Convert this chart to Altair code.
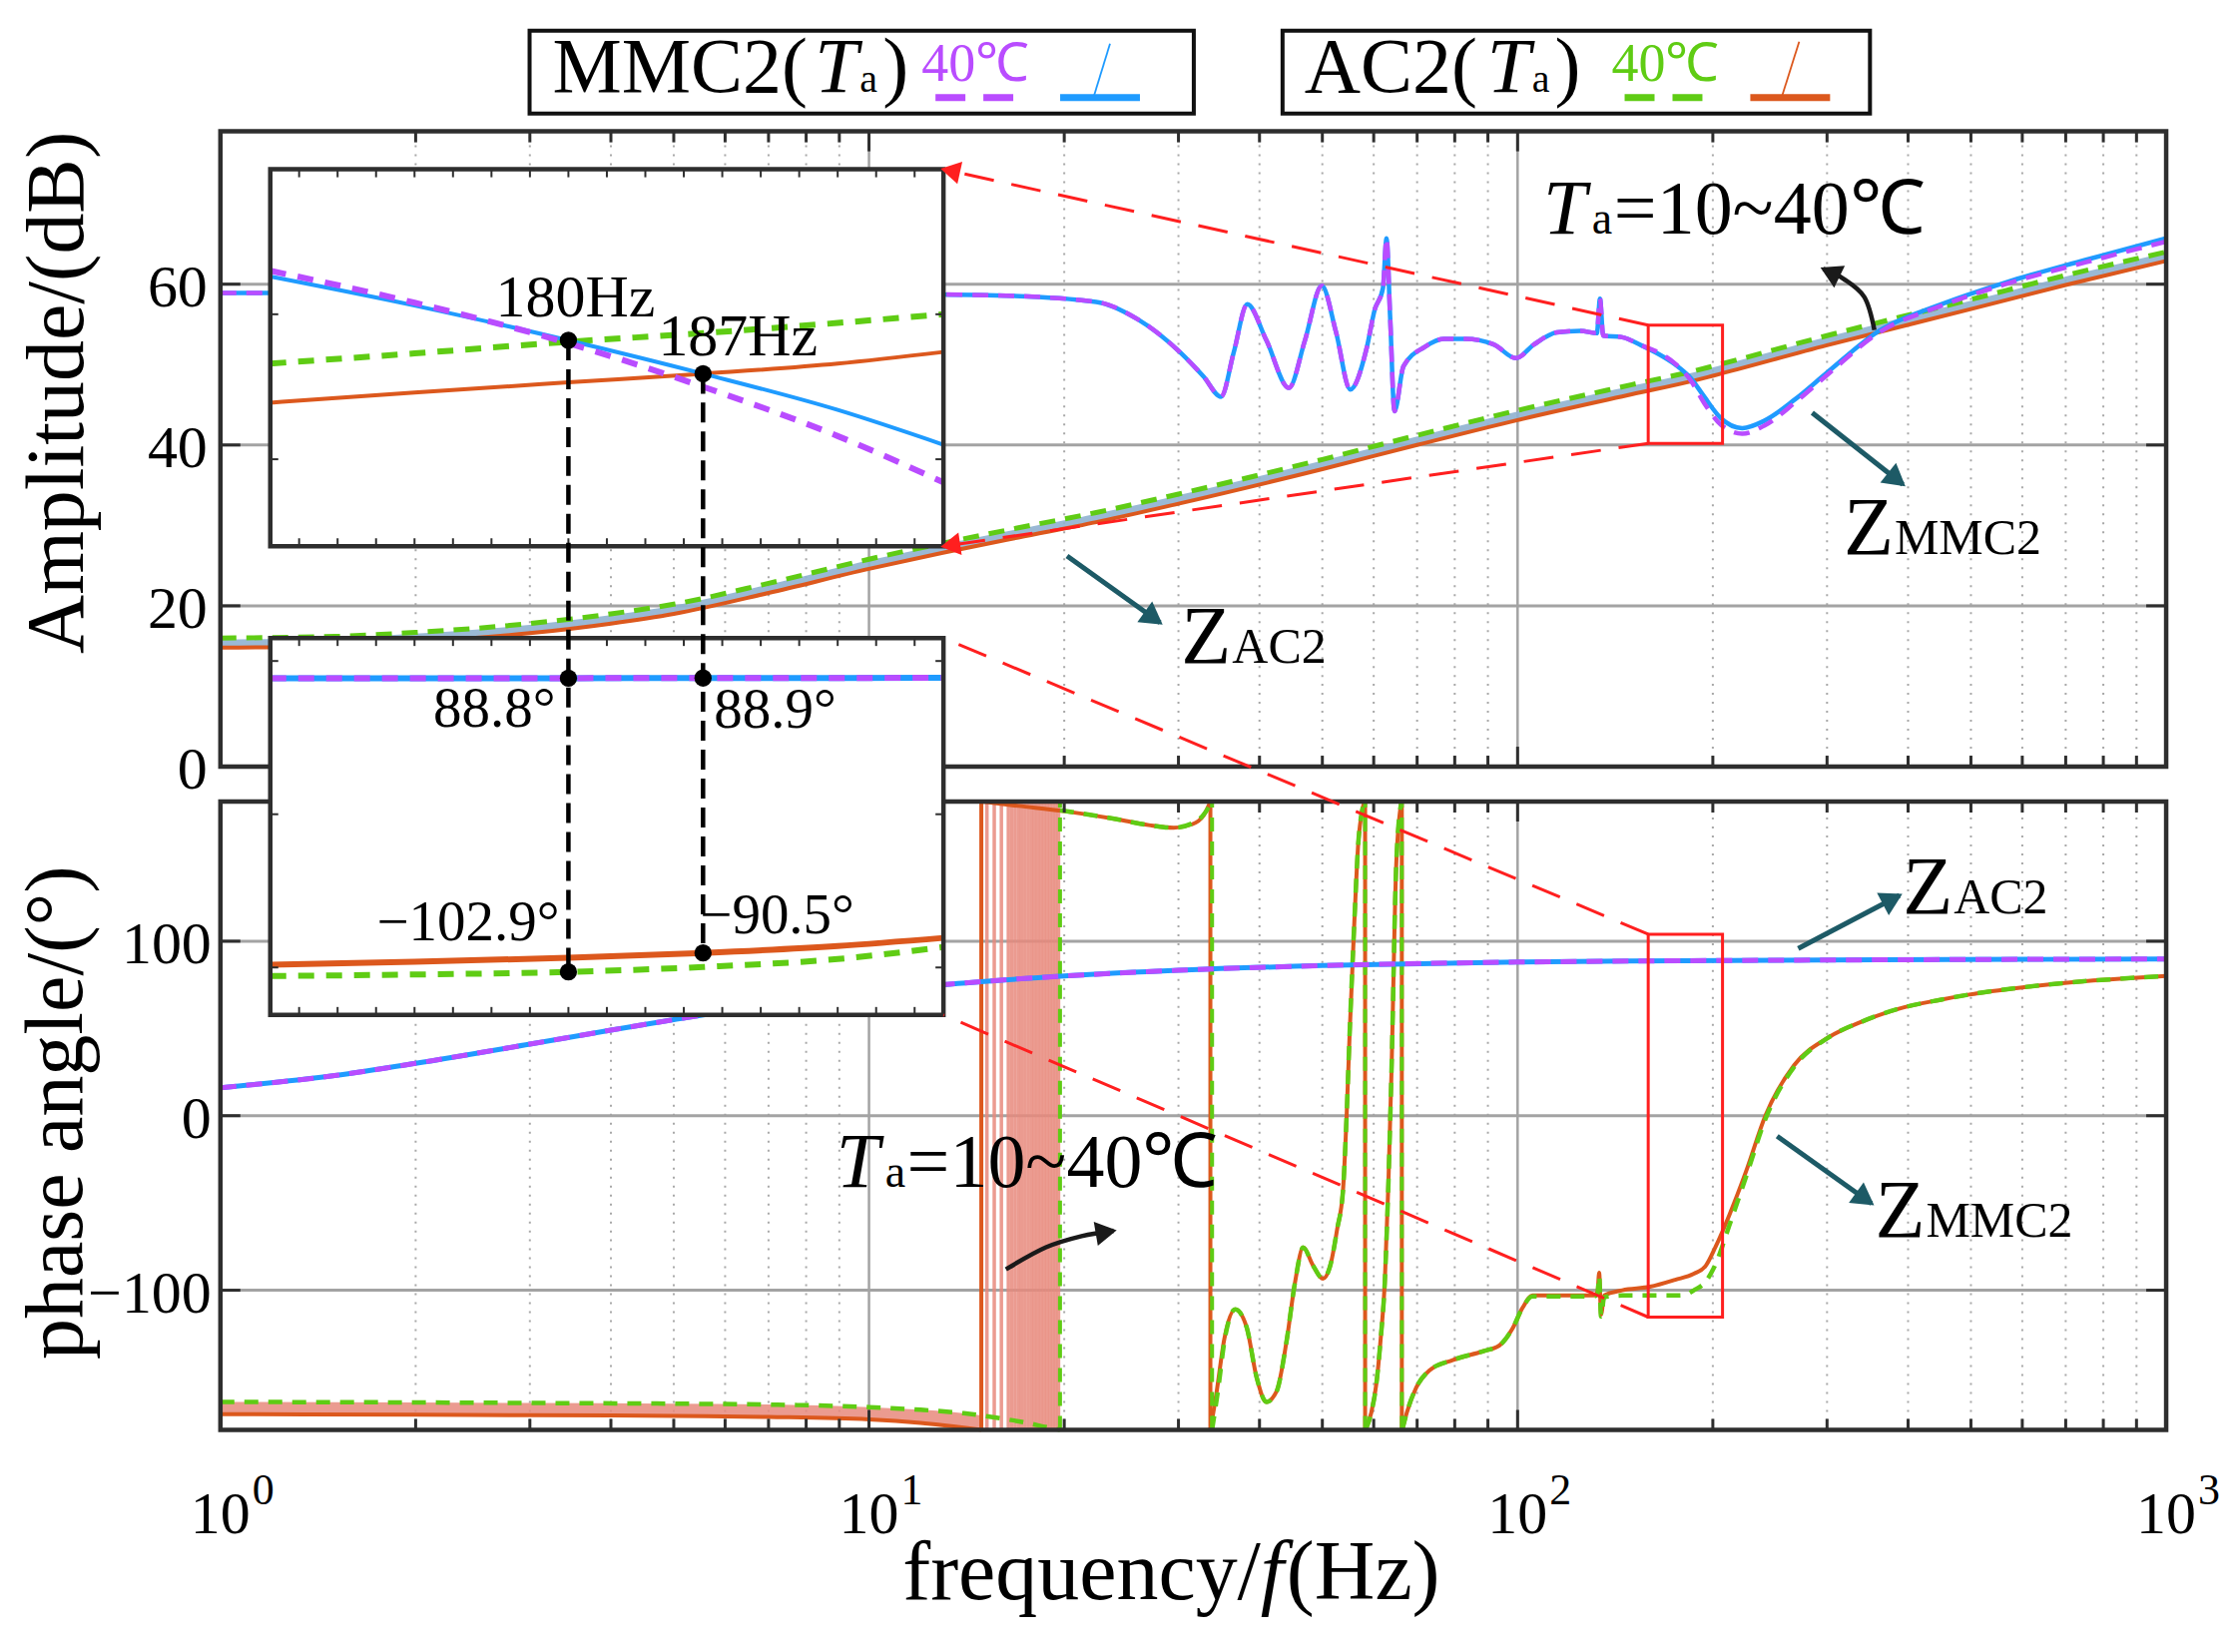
import math
import altair as alt
import pandas as pd

FONT = "Liberation Serif"
BLUE = "#1f9bff"
PURPLE = "#b94cff"
GREEN = "#5fcc14"
ORANGE = "#dc581d"
SALMON = "#e8897c"
STEEL = "#8fb1d0"
TEAL = "#1d5a66"
RED = "#ff1f1f"
FRAME = "#2e2e2e"
GRID = "#a3a3a3"
GRID_MINOR = "#a8a8a8"

# ------------------------------------------------------------------ data
# top panel: amplitude (dB)
mmc_amp_f = [1, 2, 5, 10, 15.7, 22.4, 26, 30.2, 32.8, 34.9, 36.5, 38.3, 41, 44.4, 47, 49.9, 52.5, 55.2,
             58.5, 60.2, 62, 62.8, 63.6, 64.6, 66.7, 71.9, 77, 83, 91.9, 99.4, 106, 114.9, 125, 132.5,
             134, 135.5, 145, 155, 165, 175, 185, 194, 206, 222, 240, 268, 300, 361, 450, 565, 750, 1000]
mmc_amp_db = [58.9, 58.9, 58.9, 58.8, 58.6, 57.8, 55.6, 51.5, 48.5, 46.0, 51.5, 57.5, 53.0, 47.1, 53.0,
              59.8, 54.0, 46.9, 52.0, 56.8, 59.5, 65.7, 56.0, 44.2, 49.8, 52.2, 53.2, 53.2, 52.5, 50.8,
              52.5, 54.0, 54.2, 53.9, 58.2, 53.6, 53.4, 52.4, 51.3, 50.0, 48.3, 46.0, 43.3, 42.1, 43.0,
              45.7, 49.0, 54.2, 57.5, 60.2, 63.0, 65.7]
mmc40_amp_db = [58.9, 58.9, 58.9, 58.8, 58.6, 57.8, 55.6, 51.5, 48.5, 46.0, 51.5, 57.5, 53.0, 47.1, 53.0,
                59.8, 54.0, 46.9, 52.0, 56.8, 59.5, 65.7, 56.0, 44.2, 49.8, 52.2, 53.2, 53.2, 52.5, 50.8,
                52.5, 54.0, 54.2, 53.9, 58.2, 53.6, 53.4, 52.4, 51.5, 50.1, 48.0, 45.2, 42.5, 41.4, 42.4,
                45.3, 48.7, 54.0, 57.3, 60.0, 62.7, 65.3]
ac2_amp_f = [1, 1.5, 2, 3, 4, 5, 7, 10, 13, 17, 22.4, 30, 50, 70, 100, 150, 187, 200, 300, 500, 700, 1000]
ac2_amp_db = [14.8, 15.0, 15.5, 16.6, 17.8, 19.0, 21.6, 24.6, 26.6, 28.5, 30.4, 32.7, 37.0, 40.0, 43.1,
              46.3, 48.0, 48.6, 52.4, 56.9, 59.9, 62.9]
ac2_40_amp_db = [16.0, 16.2, 16.7, 17.8, 19.0, 20.2, 22.8, 25.8, 27.8, 29.7, 31.6, 33.9, 38.2, 41.2, 44.3,
                 47.5, 49.2, 49.8, 53.6, 58.1, 61.1, 64.0]
ac2_family_amp_db = [15.4, 15.6, 16.1, 17.2, 18.4, 19.6, 22.2, 25.2, 27.2, 29.1, 31.0, 33.3, 37.6, 40.6,
                     43.7, 46.9, 48.6, 49.2, 53.0, 57.5, 60.5, 63.5]

# bottom panel: phase (deg)
mmc_ph_f = [1, 1.5, 2, 3, 4, 5, 7, 10, 13, 20, 30, 50, 100, 180, 300, 1000]
mmc_ph_deg = [16, 23, 30, 41, 49, 55, 63.5, 70.5, 75, 80, 83.3, 86, 88, 88.8, 89.2, 89.8]
mmc40_ph_deg = [16, 23, 30, 41, 49, 55, 63.5, 70.5, 75, 80, 83.3, 86, 88, 88.8, 89.2, 89.8]

ac2_ph_f = [
    [1, 2, 3, 5, 7, 10, 12, 13.5, 14.9],
    [14.9, 17, 20, 24, 27, 29.5, 31.5, 32.8, 33.6],
    [33.6, 34.3, 35.3, 36.7, 38.2, 39.6, 41, 42.5, 44, 45.4, 46.7, 48.4, 50.1, 51.5, 52.7, 53.8, 54.5,
     55.1, 56, 56.8, 57.6, 58.1],
    [58.3, 59.5, 60.6, 61.5, 62.4, 63.2, 63.9, 65.0, 66.2],
    [66.4, 67.5, 69.8, 73.1, 79.4, 88.4, 93.7, 98.2, 101.8, 105.4, 115, 125, 131, 132.8, 133.6, 134.5,
     136, 145, 160, 175, 187, 195, 202, 212, 225, 241, 267, 302, 340, 387, 450, 497, 600, 718, 850, 1000],
]
ac2_ph_deg = [
    [-171, -171.3, -171.6, -172, -172.6, -174, -176, -178, -180],
    [180, 177.5, 174.5, 170, 166.5, 165, 167, 172, 180],
    [-180, -160, -128, -111, -121, -150, -164, -158, -130, -95, -75.5, -86, -93.4, -85, -65, -43, 0, 48,
     110, 156, 175, 180],
    [-180, -170, -153, -128, -96, -40, 24, 144, 180],
    [-180, -170, -155.7, -146, -140, -135, -131.7, -122, -110, -103, -103, -103, -103, -101, -90, -114,
     -103, -100, -98, -94, -90.5, -86, -75, -57, -32, 0, 29, 45, 54, 61.3, 66.5, 69.4, 73.5, 76.5, 78.5,
     80],
]
ac2_40_ph_f = [
    [1, 2, 3, 5, 7, 10, 12, 14, 16, 17.5, 18.8, 19.7],
    [19.7, 24, 27, 29.5, 31.5, 32.8, 33.8],
    [33.8, 34.5, 35.4, 36.7, 38.2, 39.6, 41, 42.5, 44, 45.4, 46.7, 48.4, 50.1, 51.5, 52.7, 53.8, 54.5,
     55.1, 56, 56.8, 57.6, 58.1],
    [58.3, 59.5, 60.6, 61.5, 62.4, 63.2, 63.9, 65.0, 66.2],
    [66.4, 67.5, 69.8, 73.1, 79.4, 88.4, 93.7, 98.2, 101.8, 105.4, 115, 125, 131, 132.8, 133.6, 134.5,
     136, 145, 160, 175, 180, 187, 195, 202, 212, 225, 241, 267, 302, 340, 387, 450, 497, 600, 718, 850,
     1000],
]
ac2_40_ph_deg = [
    [-164, -164.3, -164.6, -165, -165.5, -167, -168.5, -170.5, -173.5, -176, -178.5, -180],
    [175, 170, 166.5, 165, 167.5, 172.5, 180],
    [-180, -158, -127, -111, -121, -150, -164, -158, -130, -95, -75.5, -86, -93.4, -85, -65, -43, 0, 48,
     110, 156, 175, 180],
    [-180, -170, -153, -128, -96, -40, 24, 144, 180],
    [-180, -170, -155.7, -146, -140, -135, -131.7, -122, -110, -103.5, -103.5, -103.5, -103.5, -102, -92,
     -115, -104, -103, -103, -103, -102.9, -100, -95, -85, -63, -35, -2, 28, 45, 54, 61.3, 66.5, 69.4,
     73.5, 76.5, 78.5, 80],
]
ac2_ph_wrap_f = [14.9, 33.6, 58.2, 66.3]
ac2_40_ph_wrap_f = [19.7, 33.8, 58.2, 66.3]
ac2_family_upper_deg = [-164, -164.3, -164.6, -165, -165.5, -167, -168.5, -169.9, -171.8]
ac2_family_wrap_f = [15.2, 15.6, 16.0, 16.4, 16.6, 16.8, 17.0, 17.2, 17.4, 17.6, 17.8, 18.0, 18.2, 18.4,
                     18.6, 18.8, 19.0, 19.2, 19.4, 19.6]

# insets
inset_f = [164.5, 172, 180, 187, 194, 199.5]
inset_mmc_db = [51.3, 50.3, 49.1, 47.95, 46.7, 45.5]
inset_mmc40_db = [51.5, 50.4, 49.0, 47.5, 45.8, 44.2]
inset_ac2_db = [46.95, 47.3, 47.65, 47.95, 48.3, 48.7]
inset_ac2_40_db = [48.3, 48.65, 49.05, 49.35, 49.7, 50.0]
inset_mmc_ph = [88.7, 88.75, 88.8, 88.9, 88.95, 89.0]
inset_ac2_ph = [-98.2, -96.3, -93.7, -90.5, -86.0, -80.7]
inset_ac2_40_ph = [-105.6, -104.6, -102.9, -99.7, -94.5, -86.7]

cross_f = [180, 187]
cross_amp_db = [49.1, 47.95]
cross_mmc_ph = [88.8, 88.9]
cross_ac2_ph = [-102.9, -90.5]
cross_amp_labels = ["180Hz", "187Hz"]
cross_mmc_labels = ["88.8°", "88.9°"]
cross_ac2_labels = ["\u2212102.9°", "\u221290.5°"]

zoom_f = [159, 207]
zoom_amp_db = [40.2, 54.9]
zoom_ph_deg = [-115.4, 104]

amp_ticks = [0, 20, 40, 60]
ph_ticks = [-100, 0, 100]
ph_tick_labels = ["\u2212100", "0", "100"]
x_ticks = [1, 10, 100, 1000]
x_tick_exp = ["0", "1", "2", "3"]

# annotation anchors (data space)
arrow_top_mmc = [(284.6, 44.0), (392.7, 35.1)]
arrow_top_ac2 = [(20.2, 26.2), (28.1, 17.9)]
arrow_bot_ac2 = [(270.8, 95.8), (388.0, 126.2)]
arrow_bot_mmc = [(251.3, -11.7), (351.3, -50.3)]
arrow_top_ta = [(354.9, 54.3), (342.5, 58.4), (317.6, 60.7), (296.0, 61.9)]
arrow_bot_ta = [(16.26, -88.0), (18.75, -75.4), (21.27, -69.0), (23.83, -65.9)]
label_top_zmmc = (318.2, 26.5)
label_top_zac = (30.3, 12.9)
label_bot_zac = (392.6, 116.1)
label_bot_zmmc = (355.8, -69.6)
label_top_ta = (109.5, 66.3)
label_bot_ta = (8.9, -40.7)

# ------------------------------------------------------------------ layout (px, plot origin)
W, H = 1951, 1302
TOP_PX = (0, 637)
BOT_PX = (672, 1302)
INS_X_PX = (50, 725)
INS1_PX = (38, 416)
INS2_PX = (508, 886)
F_DOM = [1, 1000]
INS_F_DOM = [164.5, 199.5]
YMAP = {
    "top": ([0, 79], TOP_PX),
    "bot": ([-180, 180], BOT_PX),
    "in1": ([42, 55], INS1_PX),
    "in2": ([-131, 115], INS2_PX),
}


def sx(sys):
    if sys in ("top", "bot"):
        return alt.Scale(type="log", domain=F_DOM, range=[0, W], nice=False)
    return alt.Scale(type="linear", domain=INS_F_DOM, range=list(INS_X_PX), nice=False, zero=False)


def sy(sys):
    (d0, d1), (pt, pb) = YMAP[sys]
    return alt.Scale(type="linear", domain=[d0, d1], range=[pb, pt], nice=False, zero=False)


def X(sys, field="x"):
    return alt.X(f"{field}:Q", scale=sx(sys), axis=None)


def Y(sys, field="y"):
    return alt.Y(f"{field}:Q", scale=sy(sys), axis=None)


def x_px(sys, f):
    if sys in ("top", "bot"):
        l0, l1 = math.log10(F_DOM[0]), math.log10(F_DOM[1])
        return (math.log10(f) - l0) / (l1 - l0) * W
    return INS_X_PX[0] + (f - INS_F_DOM[0]) / (INS_F_DOM[1] - INS_F_DOM[0]) * (INS_X_PX[1] - INS_X_PX[0])


def px_x(sys, p):
    if sys in ("top", "bot"):
        l0, l1 = math.log10(F_DOM[0]), math.log10(F_DOM[1])
        return 10 ** (l0 + p / W * (l1 - l0))
    return INS_F_DOM[0] + (p - INS_X_PX[0]) / (INS_X_PX[1] - INS_X_PX[0]) * (INS_F_DOM[1] - INS_F_DOM[0])


def y_px(sys, v):
    (d0, d1), (pt, pb) = YMAP[sys]
    return pb - (v - d0) / (d1 - d0) * (pb - pt)


def px_y(sys, p):
    (d0, d1), (pt, pb) = YMAP[sys]
    return d0 + (pb - p) / (pb - pt) * (d1 - d0)


ONE = pd.DataFrame({"d": [0]})
layers = []


def segs(sys, x, y, x2, y2, color, width, dash=None, opacity=1.0):
    df = pd.DataFrame({"x": x, "y": y, "x2": x2, "y2": y2})
    kw = dict(color=color, strokeWidth=width, opacity=opacity)
    if dash:
        kw["strokeDash"] = dash
    return alt.Chart(df).mark_rule(**kw).encode(x=X(sys), y=Y(sys), x2="x2:Q", y2="y2:Q")


def pxseg(x, y, x2, y2, color, width, dash=None):
    kw = dict(color=color, strokeWidth=width)
    if dash:
        kw["strokeDash"] = dash
    return alt.Chart(ONE).mark_rule(**kw).encode(
        x=alt.value(x), y=alt.value(y), x2=alt.value(x2), y2=alt.value(y2))


def curve(sys, xs, ys, color, width, dash=None, seg=None, interp="monotone", opacity=1.0):
    df = pd.DataFrame({"x": xs, "y": ys, "i": list(range(len(xs)))})
    enc = dict(x=X(sys), y=Y(sys), order="i:Q")
    if seg is not None:
        df["s"] = seg
        enc["detail"] = "s:N"
    kw = dict(color=color, strokeWidth=width, interpolate=interp, opacity=opacity)
    if dash:
        kw["strokeDash"] = dash
    return alt.Chart(df).mark_line(**kw).encode(**enc)


def flat(segments_f, segments_v):
    xs, ys, ss = [], [], []
    for k, (fs, vs) in enumerate(zip(segments_f, segments_v)):
        xs += fs
        ys += vs
        ss += [k] * len(fs)
    return xs, ys, ss


def rect(sys, x0, x1, y0, y1, stroke, width, fill=None):
    df = pd.DataFrame({"x": [x0], "x2": [x1], "y": [y0], "y2": [y1]})
    kw = dict(stroke=stroke, strokeWidth=width)
    if fill:
        kw["fill"] = fill
    else:
        kw["fillOpacity"] = 0
    return alt.Chart(df).mark_rect(**kw).encode(x=X(sys), x2="x2:Q", y=Y(sys), y2="y2:Q")


def text(sys, x, y, txt, size, align="left", baseline="alphabetic", dx=0, dy=0, color="black",
         italic=False, angle=None):
    kw = dict(font=FONT, fontSize=size, align=align, baseline=baseline, dx=dx, dy=dy, color=color, text=txt)
    if italic:
        kw["fontStyle"] = "italic"
    if angle is not None:
        kw["angle"] = angle
    if sys == "px":
        return alt.Chart(ONE).mark_text(**kw).encode(x=alt.value(x), y=alt.value(y))
    df = pd.DataFrame({"x": [x], "y": [y]})
    return alt.Chart(df).mark_text(**kw).encode(x=X(sys), y=Y(sys))


def head(sys, p_from, p_to, color, size):
    a = (x_px(sys, p_from[0]), y_px(sys, p_from[1]))
    b = (x_px(sys, p_to[0]), y_px(sys, p_to[1]))
    dxp, dyp = b[0] - a[0], b[1] - a[1]
    n = math.hypot(dxp, dyp)
    ux, uy = dxp / n, dyp / n
    ang = (math.degrees(math.atan2(dxp, -dyp)) + 360) % 360
    back = math.sqrt(size) * 0.45
    cx, cy = b[0] - ux * back, b[1] - uy * back
    df = pd.DataFrame({"x": [px_x(sys, cx)], "y": [px_y(sys, cy)], "a": [ang]})
    return alt.Chart(df).mark_point(shape="triangle", filled=True, color=color, size=size, opacity=1).encode(
        x=X(sys), y=Y(sys), angle=alt.Angle("a:Q", scale=None))


def arrow(sys, pts, color, width, size, interp="linear"):
    xs = [p[0] for p in pts]
    ys = [p[1] for p in pts]
    return [curve(sys, xs, ys, color, width, interp=interp), head(sys, pts[-2], pts[-1], color, size)]


def frame_ticks(sys, xdom, minor, major, yvals, lmin, lmaj, ly, width):
    (d0, d1), (pt, pb) = YMAP[sys]
    xs, ys, x2s, y2s = [], [], [], []
    for f, L in [(f, lmin) for f in minor] + [(f, lmaj) for f in major]:
        xs += [f, f]
        x2s += [f, f]
        ys += [d0, d1]
        y2s += [px_y(sys, pb - L), px_y(sys, pt + L)]
    for v in yvals:
        xs += [xdom[0], xdom[1]]
        ys += [v, v]
        y2s += [v, v]
        x2s += [px_x(sys, x_px(sys, xdom[0]) + ly), px_x(sys, x_px(sys, xdom[1]) - ly)]
    return segs(sys, xs, ys, x2s, y2s, FRAME, width)


# ------------------------------------------------------------------ grids
minor_f = [m * 10 ** d for d in range(3) for m in range(2, 10)]
major_f = [10, 100]
for sys, hv in (("top", amp_ticks[1:]), ("bot", ph_ticks)):
    (d0, d1), _ = YMAP[sys]
    layers.append(segs(sys, minor_f, [d0] * len(minor_f), minor_f, [d1] * len(minor_f), GRID_MINOR, 2, [2, 7]))
    layers.append(segs(sys, major_f, [d0] * 2, major_f, [d1] * 2, GRID, 2.5))
    layers.append(segs(sys, [F_DOM[0]] * len(hv), hv, [F_DOM[1]] * len(hv), hv, GRID, 3))

# ------------------------------------------------------------------ top curves
layers.append(curve("top", ac2_amp_f, ac2_family_amp_db, STEEL, 7, opacity=0.9))
layers.append(curve("top", ac2_amp_f, ac2_amp_db, ORANGE, 4))
layers.append(curve("top", ac2_amp_f, ac2_40_amp_db, GREEN, 5, dash=[16, 10]))
layers.append(curve("top", mmc_amp_f, mmc_amp_db, BLUE, 4.5))
layers.append(curve("top", mmc_amp_f, mmc40_amp_db, PURPLE, 4.5, dash=[16, 10]))

# ------------------------------------------------------------------ bottom curves
band_df = pd.DataFrame({"x": ac2_ph_f[0], "y": ac2_ph_deg[0], "y2": ac2_family_upper_deg})
layers.append(alt.Chart(band_df).mark_area(color=SALMON, opacity=0.85, interpolate="monotone").encode(
    x=X("bot"), y=Y("bot"), y2="y2:Q"))
nfw = len(ac2_family_wrap_f)
layers.append(segs("bot", ac2_family_wrap_f, [-180] * nfw, ac2_family_wrap_f, [180] * nfw,
                   SALMON, 3.5, opacity=0.85))
nw = len(ac2_ph_wrap_f)
layers.append(segs("bot", ac2_ph_wrap_f, [-180] * nw, ac2_ph_wrap_f, [180] * nw, ORANGE, 4))
xs, ys, ss = flat(ac2_ph_f, ac2_ph_deg)
layers.append(curve("bot", xs, ys, ORANGE, 4, seg=ss))
nw = len(ac2_40_ph_wrap_f)
layers.append(segs("bot", ac2_40_ph_wrap_f, [-180] * nw, ac2_40_ph_wrap_f, [180] * nw, GREEN, 4,
                   dash=[14, 10]))
xs, ys, ss = flat(ac2_40_ph_f, ac2_40_ph_deg)
layers.append(curve("bot", xs, ys, GREEN, 4.5, dash=[14, 10], seg=ss))
layers.append(curve("bot", mmc_ph_f, mmc_ph_deg, BLUE, 5))
layers.append(curve("bot", mmc_ph_f, mmc40_ph_deg, PURPLE, 5, dash=[16, 10]))

# ------------------------------------------------------------------ frames, ticks, labels
for sys, yv in (("top", amp_ticks[1:]), ("bot", ph_ticks)):
    (d0, d1), _ = YMAP[sys]
    layers.append(rect(sys, F_DOM[0], F_DOM[1], d0, d1, FRAME, 4.5))
    layers.append(frame_ticks(sys, F_DOM, minor_f, major_f, yv, 11, 20, 20, 3))

amp_lab = pd.DataFrame({"x": [F_DOM[0]] * 4, "y": amp_ticks, "t": [str(v) for v in amp_ticks]})
layers.append(alt.Chart(amp_lab).mark_text(font=FONT, fontSize=60, align="right", baseline="middle",
                                           dx=-13, dy=4).encode(x=X("top"), y=Y("top"), text="t:N"))
ph_lab = pd.DataFrame({"x": [F_DOM[0]] * 3, "y": ph_ticks, "t": ph_tick_labels})
layers.append(alt.Chart(ph_lab).mark_text(font=FONT, fontSize=60, align="right", baseline="middle",
                                          dx=-9, dy=4).encode(x=X("bot"), y=Y("bot"), text="t:N"))
xl = pd.DataFrame({"x": x_ticks, "y": [-180] * 4, "t": ["10"] * 4, "e": x_tick_exp})
layers.append(alt.Chart(xl).mark_text(font=FONT, fontSize=60, align="center", baseline="alphabetic",
                                      dy=104).encode(x=X("bot"), y=Y("bot"), text="t:N"))
layers.append(alt.Chart(xl).mark_text(font=FONT, fontSize=44, align="left", baseline="alphabetic",
                                      dx=32, dy=75).encode(x=X("bot"), y=Y("bot"), text="e:N"))

layers.append(text("px", -138, 262, "Amplitude/(dB)", 82, align="center", angle=270))
layers.append(text("px", -139, 984, "phase angle/(°)", 82, align="center", angle=270))
layers.append(text("px", 684, 1472, "frequency/", 84))
layers.append(text("px", 1043, 1472, "f", 84, italic=True))
layers.append(text("px", 1069, 1472, "(Hz)", 84))

# red zoom boxes
layers.append(rect("top", zoom_f[0], zoom_f[1], zoom_amp_db[0], zoom_amp_db[1], RED, 3))
layers.append(rect("bot", zoom_f[0], zoom_f[1], zoom_ph_deg[0], zoom_ph_deg[1], RED, 3))

# ------------------------------------------------------------------ insets
ins_xt = list(range(166, 199, 2))
for sys, ylim, curves, yt in (
    ("in1", YMAP["in1"][0], [(inset_ac2_db, ORANGE, 4, None), (inset_ac2_40_db, GREEN, 6, [16, 12]),
                             (inset_mmc_db, BLUE, 4, None), (inset_mmc40_db, PURPLE, 6, [16, 12])], [45, 50]),
    ("in2", YMAP["in2"][0], [(inset_ac2_ph, ORANGE, 6, None), (inset_ac2_40_ph, GREEN, 6, [16, 12]),
                             (inset_mmc_ph, BLUE, 6, None), (inset_mmc_ph, PURPLE, 6, [16, 12])], ph_ticks),
):
    layers.append(rect(sys, INS_F_DOM[0], INS_F_DOM[1], ylim[0], ylim[1], FRAME, 0, fill="white"))
    for vals, col, wd, ds in curves:
        layers.append(curve(sys, inset_f, vals, col, wd, dash=ds))
    layers.append(rect(sys, INS_F_DOM[0], INS_F_DOM[1], ylim[0], ylim[1], FRAME, 4.5))
    layers.append(frame_ticks(sys, INS_F_DOM, ins_xt, [], yt, 8, 8, 8, 2))

# vertical dashed links between insets
link_top = [px_y("in2", y_px("in1", v)) for v in cross_amp_db]
layers.append(segs("in2", cross_f, link_top, cross_f, cross_ac2_ph, "black", 4.5, dash=[20, 9]))

dots1 = pd.DataFrame({"x": cross_f, "y": cross_amp_db})
layers.append(alt.Chart(dots1).mark_point(shape="circle", filled=True, color="black", size=300, opacity=1)
              .encode(x=X("in1"), y=Y("in1")))
dots2 = pd.DataFrame({"x": cross_f + cross_f, "y": cross_mmc_ph + cross_ac2_ph})
layers.append(alt.Chart(dots2).mark_point(shape="circle", filled=True, color="black", size=300, opacity=1)
              .encode(x=X("in2"), y=Y("in2")))

# inset labels
layers.append(text("in1", cross_f[0], cross_amp_db[0], cross_amp_labels[0], 60, align="center", dx=7, dy=-24))
layers.append(text("in1", cross_f[1], cross_amp_db[1], cross_amp_labels[1], 60, align="center", dx=35, dy=-18))
layers.append(text("in2", cross_f[0], cross_mmc_ph[0], cross_mmc_labels[0], 57, align="right", dx=-13, dy=49))
layers.append(text("in2", cross_f[1], cross_mmc_ph[1], cross_mmc_labels[1], 57, align="left", dx=11, dy=50))
layers.append(text("in2", cross_f[0], cross_ac2_ph[0], cross_ac2_labels[0], 57, align="right", dx=-9, dy=-32))
layers.append(text("in2", cross_f[1], cross_ac2_ph[1], cross_ac2_labels[1], 57, align="left", dx=-3, dy=-20))

# ------------------------------------------------------------------ connectors
ins_right_f = px_x("top", INS_X_PX[1])
c1_top = (ins_right_f, px_y("top", INS1_PX[0]))
c1_bot = (ins_right_f, px_y("top", INS1_PX[1]))
c2_top = (ins_right_f, px_y("bot", INS2_PX[0]))
c2_bot = (ins_right_f, px_y("bot", INS2_PX[1]))
layers.append(segs("top", [zoom_f[0], zoom_f[0]], [zoom_amp_db[1], zoom_amp_db[0]],
                   [c1_top[0], c1_bot[0]], [c1_top[1], c1_bot[1]], RED, 3, dash=[30, 18]))
layers.append(head("top", (zoom_f[0], zoom_amp_db[1]), c1_top, RED, 520))
layers.append(head("top", (zoom_f[0], zoom_amp_db[0]), c1_bot, RED, 520))
layers.append(segs("bot", [zoom_f[0], zoom_f[0]], [zoom_ph_deg[1], zoom_ph_deg[0]],
                   [c2_top[0], c2_bot[0]], [c2_top[1], c2_bot[1]], RED, 3, dash=[30, 18]))

# ------------------------------------------------------------------ annotations
layers += arrow("top", arrow_top_mmc, TEAL, 5, 650)
layers += arrow("top", arrow_top_ac2, TEAL, 5, 650)
layers += arrow("bot", arrow_bot_ac2, TEAL, 5, 650)
layers += arrow("bot", arrow_bot_mmc, TEAL, 5, 650)
layers += arrow("top", arrow_top_ta, "#1a1a1a", 4.5, 600, interp="cardinal")
layers += arrow("bot", arrow_bot_ta, "#1a1a1a", 4.5, 600, interp="cardinal")

for sys, pos, sub in (("top", label_top_zmmc, "MMC2"), ("top", label_top_zac, "AC2"),
                      ("bot", label_bot_zac, "AC2"), ("bot", label_bot_zmmc, "MMC2")):
    layers.append(text(sys, pos[0], pos[1], "Z", 82))
    layers.append(text(sys, pos[0], pos[1], sub, 50, dx=51))

for sys, pos in (("top", label_top_ta), ("bot", label_bot_ta)):
    layers.append(text(sys, pos[0], pos[1], "T", 78, italic=True))
    layers.append(text(sys, pos[0], pos[1], "a", 46, dx=49))
    layers.append(text(sys, pos[0], pos[1], "=10~40℃", 76, dx=71))

# ------------------------------------------------------------------ legend boxes (px)
for bx in ((310, 976), (1065, 1654)):
    layers.append(alt.Chart(ONE).mark_rect(fill="white", stroke="#111111", strokeWidth=4).encode(
        x=alt.value(bx[0]), x2=alt.value(bx[1]), y=alt.value(-101), y2=alt.value(-18)))

layers.append(text("px", 333, -40, "MMC2(", 78))
layers.append(text("px", 596, -40, "T", 78, italic=True))
layers.append(text("px", 641, -40, "a", 40))
layers.append(text("px", 664, -40, ")", 78))
layers.append(text("px", 703, -51, "40℃", 54, color=PURPLE))
layers.append(pxseg(717, -34, 797, -34, PURPLE, 7, dash=[30, 18]))
layers.append(pxseg(842, -34, 922, -34, BLUE, 7))
layers.append(pxseg(876, -36, 892, -88, BLUE, 1.8))

layers.append(text("px", 1087, -40, "AC2(", 78))
layers.append(text("px", 1270, -40, "T", 78, italic=True))
layers.append(text("px", 1315, -40, "a", 40))
layers.append(text("px", 1338, -40, ")", 78))
layers.append(text("px", 1395, -51, "40℃", 54, color=GREEN))
layers.append(pxseg(1408, -34, 1489, -34, GREEN, 7, dash=[30, 18]))
layers.append(pxseg(1534, -34, 1614, -34, ORANGE, 7))
layers.append(pxseg(1566, -36, 1583, -90, ORANGE, 1.8))

chart = (
    alt.layer(*layers)
    .resolve_scale(x="independent", y="independent")
    .properties(
        width=W,
        height=H,
        autosize=alt.AutoSizeParams(type="none"),
        padding={"left": 213, "top": 123, "right": 60, "bottom": 200},
    )
    .configure_view(strokeWidth=0)
)

chart.save("out.html", embed_options={"renderer": "svg", "actions": False})
